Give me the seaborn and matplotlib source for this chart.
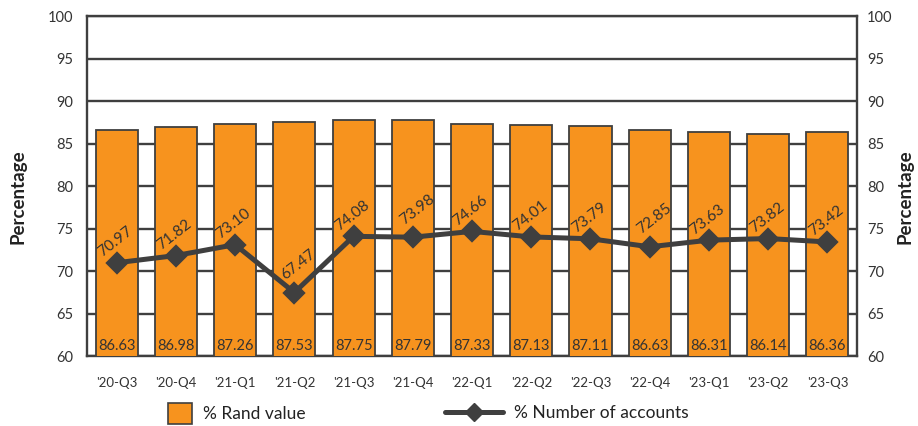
import matplotlib
matplotlib.use("Agg")
import matplotlib.pyplot as plt
from matplotlib.lines import Line2D
from matplotlib.patches import Patch
import seaborn as sns
import pandas as pd

quarters = ["'20-Q3", "'20-Q4", "'21-Q1", "'21-Q2", "'21-Q3", "'21-Q4", "'22-Q1",
            "'22-Q2", "'22-Q3", "'22-Q4", "'23-Q1", "'23-Q2", "'23-Q3"]
rand_value = [86.63, 86.98, 87.26, 87.53, 87.75, 87.79, 87.33,
              87.13, 87.11, 86.63, 86.31, 86.14, 86.36]
num_accounts = [70.97, 71.82, 73.10, 67.47, 74.08, 73.98, 74.66,
                74.01, 73.79, 72.85, 73.63, 73.82, 73.42]
y_ticks = [60, 65, 70, 75, 80, 85, 90, 95, 100]

ORANGE = "#F7931E"
DARK = "#3F3F3F"
TEXT = "#333333"

sns.set_theme(style="white")
plt.rcParams["font.family"] = ["Lato", "DejaVu Sans"]

df = pd.DataFrame({"quarter": quarters, "rand": rand_value, "accounts": num_accounts})

fig = plt.figure(figsize=(9.18, 4.26), dpi=100)
ax = fig.add_axes([0.0948, 0.1643, 0.8388, 0.7981])

sns.barplot(data=df, x="quarter", y="rand", color=ORANGE, saturation=1,
            width=0.71, edgecolor=DARK, linewidth=1.3, ax=ax, zorder=3)
sns.pointplot(data=df, x="quarter", y="accounts", color=DARK, markers="D",
              markersize=9, linewidth=3.6, ax=ax, zorder=5)

ax.set_ylim(60, 100)
ax.set_yticks(y_ticks)
ax.set_xlim(-0.5, len(quarters) - 0.5)
ax.yaxis.grid(True, color=DARK, linewidth=1.7, zorder=0)
ax.set_axisbelow(True)
ax.set_xlabel("")
ax.set_ylabel("Percentage", fontsize=13.5, fontweight="bold", color="#222222")
ax.yaxis.set_label_coords(-0.079, 0.47)
ax.tick_params(axis="both", length=0, labelcolor=TEXT)
ax.tick_params(axis="y", labelsize=10.5, pad=10)
ax.tick_params(axis="x", labelsize=9.5, pad=15)
for s in ax.spines.values():
    s.set_visible(True)
    s.set_color(DARK)
    s.set_linewidth(1.7)

# Bar values along the bottom of each bar
for i, v in enumerate(rand_value):
    ax.text(i, 60.35, f"{v:.2f}", ha="center", va="bottom", fontsize=10.5,
            color=TEXT, zorder=6)

# Account share labels above the markers; the local dip gets extra room
for i, v in enumerate(num_accounts):
    dip = 0 < i < len(num_accounts) - 1 and v < min(num_accounts[i - 1], num_accounts[i + 1])
    offset = (3, 20) if dip else (-1, 15)
    ax.annotate(f"{v:.2f}", (i, v), xytext=offset, textcoords="offset points",
                ha="center", va="center", rotation=38, fontsize=11.2,
                color=TEXT, zorder=6)

# Mirrored scale on the right
ax2 = ax.twinx()
ax2.set_ylim(ax.get_ylim())
ax2.set_yticks(y_ticks)
ax2.tick_params(axis="y", length=0, labelsize=10.5, pad=7, labelcolor=TEXT)
ax2.set_ylabel("Percentage", fontsize=13.5, fontweight="bold", color="#222222",
               rotation=90)
ax2.yaxis.set_label_coords(1.051, 0.47)
ax2.grid(False)
for s in ax2.spines.values():
    s.set_visible(False)

bar_handle = Patch(facecolor=ORANGE, edgecolor=DARK, linewidth=1.2)
line_handle = Line2D([0], [0], color=DARK, linewidth=3.6, marker="D", markersize=9)
fig.legend([bar_handle], ["% Rand value"], loc="center left",
           bbox_to_anchor=(0.183, 0.03), frameon=False, fontsize=12.5,
           handlelength=1.4, handleheight=1.5, handletextpad=0.6,
           labelcolor="#222222", borderpad=0, borderaxespad=0)
fig.legend([line_handle], ["% Number of accounts"], loc="center left",
           bbox_to_anchor=(0.485, 0.03), frameon=False, fontsize=12.5,
           handlelength=3.35, handletextpad=0.6,
           labelcolor="#222222", borderpad=0, borderaxespad=0)

fig.savefig("out.png", dpi=100)
